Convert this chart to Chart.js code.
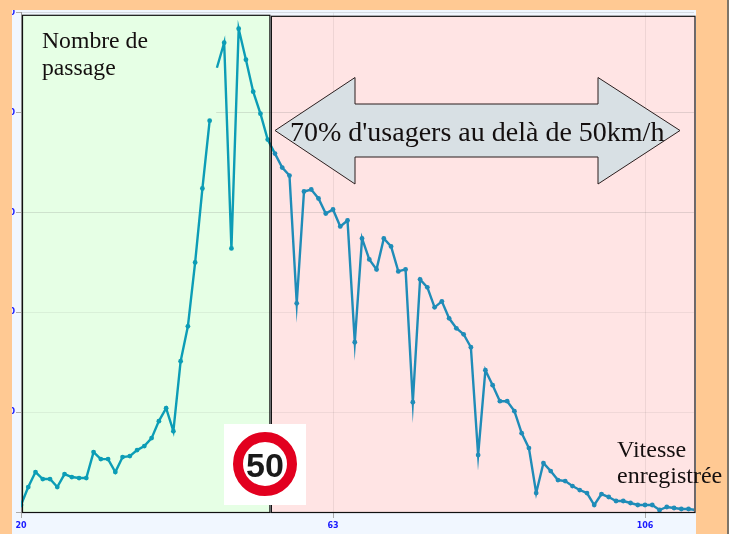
<!DOCTYPE html>
<html lang="fr">
<head>
<meta charset="utf-8">
<title>Vitesse enregistrée</title>
<script src="https://cdn.jsdelivr.net/npm/chart.js@4/dist/chart.umd.min.js"></script>
<style>
  html, body { margin: 0; padding: 0; background: #fff; overflow: hidden; }
  #page { position: relative; width: 727px; height: 534px; background: #ffc993; border-right: 2px solid #7d7468; box-sizing: content-box; }
  #wrap { position: absolute; left: 12px; top: 10px; width: 684px; height: 524px; background: #f1f7ff; overflow: hidden; }
  #chart { position: absolute; left: 0; top: -3px; }
  #overlay { position: absolute; left: 0; top: 0; }
  #overlay text { font-family: "Liberation Serif", serif; fill: #140f0f; }
</style>
</head>
<body>
<div id="page">
  <div id="wrap"><canvas id="chart" width="684" height="527"></canvas></div>
  <svg id="overlay" width="737" height="534">
    <polygon points="275,130.5 355,77.5 355,104 598,104 598,77.5 680,130.5 598,184 598,157 355,157 355,184" fill="#d8e0e4" stroke="#2a1d1d" stroke-width="1"/>
    <text x="290" y="140.5" font-size="28">70% d'usagers au delà de 50km/h</text>
    <text x="42" y="48" font-size="23.7">Nombre de</text>
    <text x="42" y="75" font-size="23.7">passage</text>
    <text x="617" y="457" font-size="24">Vitesse</text>
    <text x="617" y="483" font-size="24">enregistrée</text>
    <rect x="224" y="424" width="82" height="81" fill="#fff"/>
    <circle cx="265" cy="464" r="27" fill="#fff" stroke="#e2001f" stroke-width="10"/>
    <text x="265" y="476.5" font-size="34" font-weight="bold" text-anchor="middle" style="font-family:'Liberation Sans',sans-serif;fill:#1a1a1a">50</text>
  </svg>
</div>
<script>
// Speeds (km/h) and counts
const speeds = [20, 21, 22, 23, 24, 25, 26, 27, 28, 29, 30, 31, 32, 33, 34, 35, 36, 37, 38, 39,
    40, 41, 42, 43, 44, 45, 46, 47, 48, 49, 50, 51, 52, 53, 54, 55, 56, 57, 58, 59,
    60, 61, 62, 63, 64, 65, 66, 67, 68, 69, 70, 71, 72, 73, 74, 75, 76, 77, 78, 79,
    80, 81, 82, 83, 84, 85, 86, 87, 88, 89, 90, 91, 92, 93, 94, 95, 96, 97, 98, 99,
    100, 101, 102, 103, 104, 105, 106, 107, 108, 109, 110, 111, 112, 113];
const passages = [7, 25, 40, 33, 33, 25, 38, 35, 34, 34, 60, 53, 53, 40, 55, 56, 62, 66, 74, 91,
    104, 81, 151, 186, 250, 324, 392, 445, 470, 264, 484, 453, 421, 399, 373, 359, 345, 337, 209, 321,
    323, 314, 299, 303, 286, 292, 170, 274, 253, 243, 274, 266, 241, 243, 110, 233, 225, 205, 211, 194,
    184, 178, 165, 57, 142, 127, 111, 111, 101, 79, 64, 19, 49, 41, 32, 31, 26, 22, 19, 7,
    18, 15, 11, 11, 9, 7, 7, 7, 2, 5, 4, 3, 3, 2];
const yTicks = [0, 100, 200, 300, 400, 500];
const xTicks = [20, 63, 106];

// where the green zone stops on the speed axis, and the piece of curve missing in the scan
const zoneLimit = 54.3;
const gapStart = 46;

const tealGreen = '#0c9db6';
const tealPink = '#1f8cb8';
const green = '#e6ffe5';

const zonesPlugin = {
    id: 'zones',
    beforeDraw(chart) {
        const { ctx, chartArea, scales } = chart;
        const split = scales.x.getPixelForValue(zoneLimit);
        const top = chartArea.top + 2;
        const h = chartArea.bottom - top;
        ctx.save();
        ctx.fillStyle = green;
        ctx.fillRect(chartArea.left + 1, top, split - chartArea.left - 1, h);
        ctx.fillStyle = '#ffe4e4';
        ctx.fillRect(split + 1, top + 1, chartArea.right - split, h - 1);
        ctx.restore();
    },
    beforeDatasetsDraw(chart) {
        const { ctx, chartArea, scales } = chart;
        // the 400 grid line is hidden in the left part of the green zone
        const y = scales.y.getPixelForValue(400);
        const end = scales.x.getPixelForValue(gapStart + 0.9);
        ctx.fillStyle = green;
        ctx.fillRect(chartArea.left + 1, y - 4, end - chartArea.left - 1, 8);
        // thin tips on the sharp dips, as in the scan
        ctx.miterLimit = 20;
    },
    afterDraw(chart) {
        const { ctx, chartArea, scales } = chart;
        const split = scales.x.getPixelForValue(zoneLimit);
        const top = chartArea.top + 2;
        const h = chartArea.bottom - top;
        ctx.save();
        ctx.strokeStyle = '#111';
        ctx.lineWidth = 1.2;
        ctx.strokeRect(chartArea.left + 1.5, top + 0.5, split - chartArea.left - 1.5, h);
        ctx.strokeRect(split + 1.5, top + 1.5, chartArea.right - split - 0.5, h - 1);
        ctx.restore();
    }
};

new Chart(document.getElementById('chart'), {
    type: 'line',
    data: {
        datasets: [{
            data: speeds.map((s, i) => ({ x: s, y: passages[i] })),
            borderWidth: 2.4,
            borderJoinStyle: 'miter',
            tension: 0,
            pointRadius: ctx => (speeds[ctx.dataIndex] === gapStart + 1 ? 0 : 2.4),
            pointBorderWidth: 0,
            pointBackgroundColor: ctx => (speeds[ctx.dataIndex] < zoneLimit ? tealGreen : tealPink),
            borderColor: tealGreen,
            segment: {
                borderColor: ctx => {
                    if (ctx.p0.parsed.x === gapStart) return 'transparent';
                    return ctx.p0.parsed.x < zoneLimit ? tealGreen : tealPink;
                }
            }
        }]
    },
    options: {
        responsive: false,
        animation: false,
        layout: { autoPadding: false, padding: { top: 0, left: 0, right: 2, bottom: 0 } },
        plugins: { legend: { display: false }, tooltip: { enabled: false } },
        scales: {
            x: {
                type: 'linear',
                min: 20,
                max: 112.75,
                afterFit: scale => { scale.height = 22; },
                afterBuildTicks: scale => { scale.ticks = xTicks.map(v => ({ value: v })); },
                grid: { color: 'rgba(120,110,110,0.13)', tickColor: '#aaa', tickLength: 6 },
                border: { color: '#999' },
                ticks: { color: '#1a1aff', font: { size: 8, weight: 'bold', family: 'Verdana, "DejaVu Sans", sans-serif' }, padding: 3, maxRotation: 0 }
            },
            y: {
                min: 0,
                max: 500,
                afterFit: scale => { scale.width = 9; },
                afterBuildTicks: scale => { scale.ticks = yTicks.map(v => ({ value: v })); },
                grid: {
                    color: ctx => (ctx.tick.value >= 300 ? 'rgba(110,110,110,0.2)' : 'rgba(110,110,110,0.1)'),
                    tickColor: '#aaa',
                    tickLength: 5
                },
                border: { color: '#999' },
                ticks: { color: '#1a1aff', font: { size: 8, weight: 'bold', family: 'Verdana, "DejaVu Sans", sans-serif' }, padding: 1,
                    callback: v => (v === 0 ? '' : v) }
            }
        }
    },
    plugins: [zonesPlugin]
});
</script>
</body>
</html>
